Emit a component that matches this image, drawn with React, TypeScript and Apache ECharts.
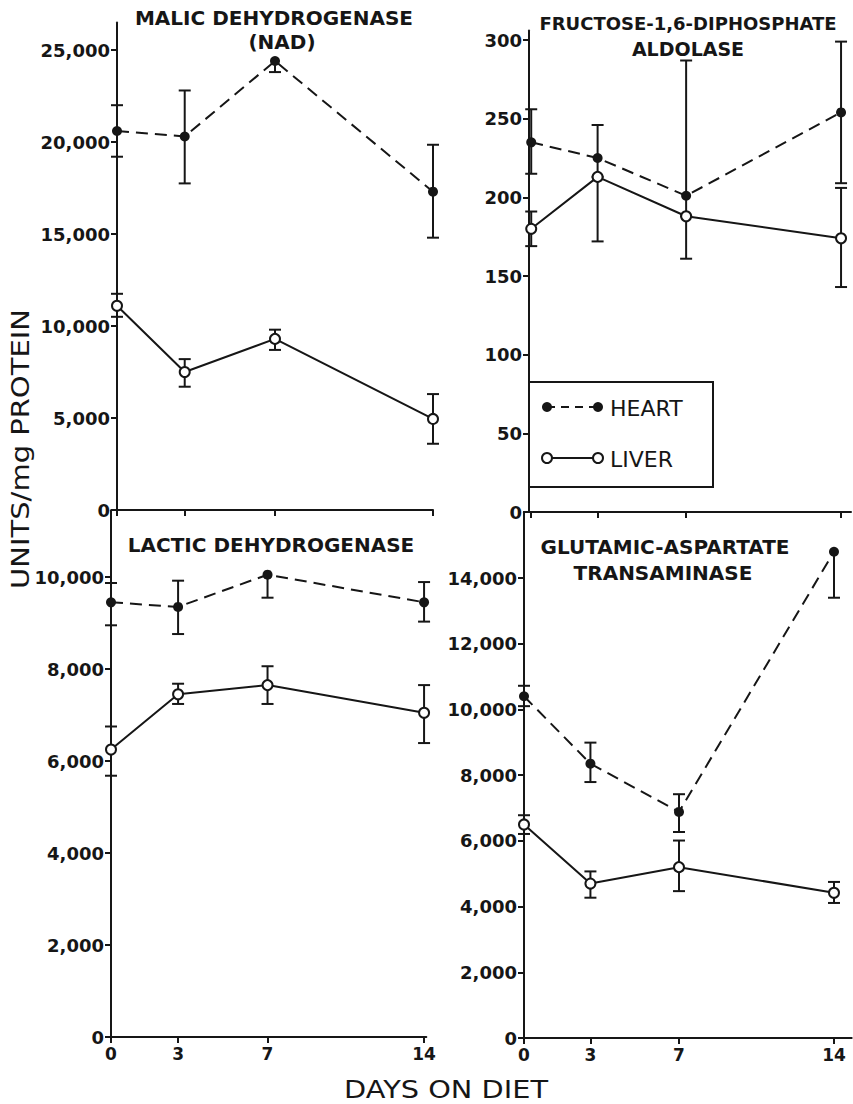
import React, { useEffect, useRef } from 'react';
import * as echarts from 'echarts';

// Sampling days on the diet
const days = [0, 3, 7, 14];
const dayTicks = [0, 3, 7, 14];

// Malic dehydrogenase (NAD), units/mg protein
const malicHeart = [20600, 20300, 24400, 17300];
const malicHeartLow = [19200, 17750, 23800, 14800];
const malicHeartHigh = [22000, 22800, 24400, 19850];
const malicLiver = [11100, 7500, 9300, 4950];
const malicLiverLow = [10500, 6700, 8700, 3600];
const malicLiverHigh = [11750, 8200, 9800, 6300];
const malicTicks = [0, 5000, 10000, 15000, 20000, 25000];

// Fructose-1,6-diphosphate aldolase
const aldoHeart = [235, 225, 201, 254];
const aldoHeartLow = [215, 213, 188, 209];
const aldoHeartHigh = [256, 246, 287, 299];
const aldoLiver = [180, 213, 188, 174];
const aldoLiverLow = [169, 172, 161, 143];
const aldoLiverHigh = [191, 213, 188, 206];
const aldoTicks = [0, 50, 100, 150, 200, 250, 300];

// Lactic dehydrogenase
const lacticHeart = [9450, 9350, 10050, 9450];
const lacticHeartLow = [8950, 8760, 9550, 9030];
const lacticHeartHigh = [9870, 9920, 10050, 9890];
const lacticLiver = [6250, 7450, 7650, 7050];
const lacticLiverLow = [5680, 7240, 7240, 6390];
const lacticLiverHigh = [6750, 7680, 8060, 7650];
const lacticTicks = [0, 2000, 4000, 6000, 8000, 10000];

// Glutamic-aspartate transaminase
const gotHeart = [10400, 8350, 6880, 14800];
const gotHeartLow = [10100, 7790, 6270, 13400];
const gotHeartHigh = [10720, 8990, 7420, 14800];
const gotLiver = [6500, 4700, 5200, 4420];
const gotLiverLow = [6210, 4270, 4470, 4110];
const gotLiverHigh = [6780, 5070, 6010, 4750];
const gotTicks = [0, 2000, 4000, 6000, 8000, 10000, 12000, 14000];

const INK = '#161616';
const FONT = 'DejaVu Sans';

type Panel = {
  grid: { left: number; top: number; width: number; height: number };
  xMin: number;
  xMax: number;
  yMax: number;
  yTicks: number[];
  showXLabels: boolean;
  heart: number[];
  heartLow: number[];
  heartHigh: number[];
  liver: number[];
  liverLow: number[];
  liverHigh: number[];
};

const panels: Panel[] = [
  {
    grid: { left: 117, top: 22.4, width: 316, height: 487.6 },
    xMin: 0, xMax: 14, yMax: 26500, yTicks: malicTicks, showXLabels: false,
    heart: malicHeart, heartLow: malicHeartLow, heartHigh: malicHeartHigh,
    liver: malicLiver, liverLow: malicLiverLow, liverHigh: malicLiverHigh,
  },
  {
    grid: { left: 529, top: 30.6, width: 322, height: 481.4 },
    xMin: -0.1, xMax: 14.45, yMax: 306, yTicks: aldoTicks, showXLabels: false,
    heart: aldoHeart, heartLow: aldoHeartLow, heartHigh: aldoHeartHigh,
    liver: aldoLiver, liverLow: aldoLiverLow, liverHigh: aldoLiverHigh,
  },
  {
    grid: { left: 111, top: 510.3, width: 315.3, height: 526.7 },
    xMin: 0, xMax: 14.1, yMax: 11450, yTicks: lacticTicks, showXLabels: true,
    heart: lacticHeart, heartLow: lacticHeartLow, heartHigh: lacticHeartHigh,
    liver: lacticLiver, liverLow: lacticLiverLow, liverHigh: lacticLiverHigh,
  },
  {
    grid: { left: 524, top: 512.3, width: 327.7, height: 525.7 },
    xMin: 0, xMax: 14.8, yMax: 16000, yTicks: gotTicks, showXLabels: true,
    heart: gotHeart, heartLow: gotHeartLow, heartHigh: gotHeartHigh,
    liver: gotLiver, liverLow: gotLiverLow, liverHigh: gotLiverHigh,
  },
];

const fmt = (v: number) => v.toLocaleString('en-US');

// Vertical error bar with end caps; an arm equal to the mean is left out
const errorBarRender = (params: any, api: any) => {
  const x = api.value(0);
  const lo = api.value(1);
  const hi = api.value(2);
  const v = api.value(3);
  const pLo = api.coord([x, lo]);
  const pHi = api.coord([x, hi]);
  const half = 6;
  const style = { stroke: INK, lineWidth: 2 };
  const children: any[] = [
    { type: 'line', shape: { x1: pLo[0], y1: pLo[1], x2: pHi[0], y2: pHi[1] }, style },
  ];
  if (lo !== v) {
    children.push({ type: 'line', shape: { x1: pLo[0] - half, y1: pLo[1], x2: pLo[0] + half, y2: pLo[1] }, style });
  }
  if (hi !== v) {
    children.push({ type: 'line', shape: { x1: pHi[0] - half, y1: pHi[1], x2: pHi[0] + half, y2: pHi[1] }, style });
  }
  return { type: 'group', children };
};

function buildOption() {
  const grid: any[] = [];
  const xAxis: any[] = [];
  const yAxis: any[] = [];
  const series: any[] = [];

  panels.forEach((p, i) => {
    grid.push({ ...p.grid, outerBoundsMode: 'none', containLabel: false });
    xAxis.push({
      type: 'value', gridIndex: i, min: p.xMin, max: p.xMax,
      splitLine: { show: false },
      axisLine: { show: true, onZero: false, lineStyle: { color: INK, width: 2 } },
      axisTick: { show: true, length: 6, lineStyle: { color: INK, width: 2 }, customValues: dayTicks },
      axisLabel: {
        show: p.showXLabels, customValues: dayTicks, margin: 8,
        color: INK, fontFamily: FONT, fontSize: 17, fontWeight: 'bold',
        formatter: (v: number) => (dayTicks.includes(v) ? String(v) : ''),
      },
    });
    yAxis.push({
      type: 'value', gridIndex: i, min: 0, max: p.yMax,
      splitLine: { show: false },
      axisLine: { show: true, onZero: false, lineStyle: { color: INK, width: 2 } },
      axisTick: { show: true, length: 6, lineStyle: { color: INK, width: 2 }, customValues: p.yTicks },
      axisLabel: {
        customValues: p.yTicks, margin: 7,
        color: INK, fontFamily: FONT, fontSize: 18, fontWeight: 'bold',
        formatter: (v: number) => (p.yTicks.includes(v) ? fmt(v) : ''),
      },
    });

    const toErr = (vals: number[], low: number[], high: number[]) =>
      days.map((d, k) => [d, low[k], high[k], vals[k]]);

    series.push(
      {
        type: 'custom', name: 'Heart', xAxisIndex: i, yAxisIndex: i, z: 2,
        renderItem: errorBarRender, encode: { x: 0, y: [1, 2] },
        data: toErr(p.heart, p.heartLow, p.heartHigh),
      },
      {
        type: 'custom', name: 'Liver', xAxisIndex: i, yAxisIndex: i, z: 2,
        renderItem: errorBarRender, encode: { x: 0, y: [1, 2] },
        data: toErr(p.liver, p.liverLow, p.liverHigh),
      },
      {
        type: 'line', name: 'Heart', xAxisIndex: i, yAxisIndex: i, z: 3,
        data: days.map((d, k) => [d, p.heart[k]]),
        symbol: 'circle', symbolSize: 10,
        lineStyle: { color: INK, width: 2, type: [12, 7] },
        itemStyle: { color: INK, borderWidth: 0 },
      },
      {
        type: 'line', name: 'Liver', xAxisIndex: i, yAxisIndex: i, z: 3,
        data: days.map((d, k) => [d, p.liver[k]]),
        symbol: 'circle', symbolSize: 10,
        lineStyle: { color: INK, width: 2 },
        itemStyle: { color: '#ffffff', borderColor: INK, borderWidth: 2 },
      },
    );
  });

  const title = (size: number) => ({
    fill: INK, fontFamily: FONT, fontSize: size, fontWeight: 'bold', align: 'center', verticalAlign: 'middle',
  });
  const plain = (size: number) => ({
    fill: INK, fontFamily: FONT, fontSize: size, align: 'center', verticalAlign: 'middle',
  });

  const graphic: any[] = [
    { type: 'text', x: 274, y: 18, style: { ...title(20), text: 'MALIC DEHYDROGENASE' } },
    { type: 'text', x: 282, y: 42, style: { ...title(20), text: '(NAD)' } },
    { type: 'text', x: 688, y: 23, style: { ...title(18), text: 'FRUCTOSE-1,6-DIPHOSPHATE' } },
    { type: 'text', x: 688, y: 49, style: { ...title(19), text: 'ALDOLASE' } },
    { type: 'text', x: 271, y: 545, style: { ...title(20), text: 'LACTIC DEHYDROGENASE' } },
    { type: 'text', x: 665, y: 547, style: { ...title(20), text: 'GLUTAMIC-ASPARTATE' } },
    { type: 'text', x: 663, y: 573, style: { ...title(20), text: 'TRANSAMINASE' } },
    { type: 'text', x: 20, y: 449, rotation: Math.PI / 2, scaleX: 1.16, style: { ...plain(25), text: 'UNITS/mg PROTEIN' } },
    { type: 'text', x: 446, y: 1089, scaleX: 1.2, style: { ...plain(24), text: 'DAYS ON DIET' } },
    // legend box
    { type: 'rect', shape: { x: 529, y: 382, width: 184, height: 105 }, style: { fill: '#ffffff', stroke: INK, lineWidth: 2 }, z: 10 },
    { type: 'line', shape: { x1: 547, y1: 407, x2: 598, y2: 407 }, style: { stroke: INK, lineWidth: 2, lineDash: [8, 6] }, z: 11 },
    { type: 'circle', shape: { cx: 547, cy: 407, r: 5 }, style: { fill: INK }, z: 12 },
    { type: 'circle', shape: { cx: 598, cy: 407, r: 5 }, style: { fill: INK }, z: 12 },
    { type: 'text', x: 610, y: 408, z: 12, style: { fill: INK, fontFamily: FONT, fontSize: 22, verticalAlign: 'middle', text: 'HEART' } },
    { type: 'line', shape: { x1: 547, y1: 458, x2: 598, y2: 458 }, style: { stroke: INK, lineWidth: 2 }, z: 11 },
    { type: 'circle', shape: { cx: 547, cy: 458, r: 5 }, style: { fill: '#ffffff', stroke: INK, lineWidth: 2 }, z: 12 },
    { type: 'circle', shape: { cx: 598, cy: 458, r: 5 }, style: { fill: '#ffffff', stroke: INK, lineWidth: 2 }, z: 12 },
    { type: 'text', x: 610, y: 459, z: 12, style: { fill: INK, fontFamily: FONT, fontSize: 22, verticalAlign: 'middle', text: 'LIVER' } },
  ];

  return {
    animation: false,
    backgroundColor: '#ffffff',
    grid,
    xAxis,
    yAxis,
    series,
    graphic,
  };
}

export default function App() {
  const ref = useRef<HTMLDivElement>(null);
  useEffect(() => {
    if (!ref.current) return;
    const chart = echarts.init(ref.current, null, { renderer: 'svg' });
    chart.setOption(buildOption() as any);
    return () => chart.dispose();
  }, []);
  return (
    <div
      ref={ref}
      style={{ position: 'absolute', left: 0, top: 0, width: 853, height: 1104, background: '#ffffff' }}
    />
  );
}
